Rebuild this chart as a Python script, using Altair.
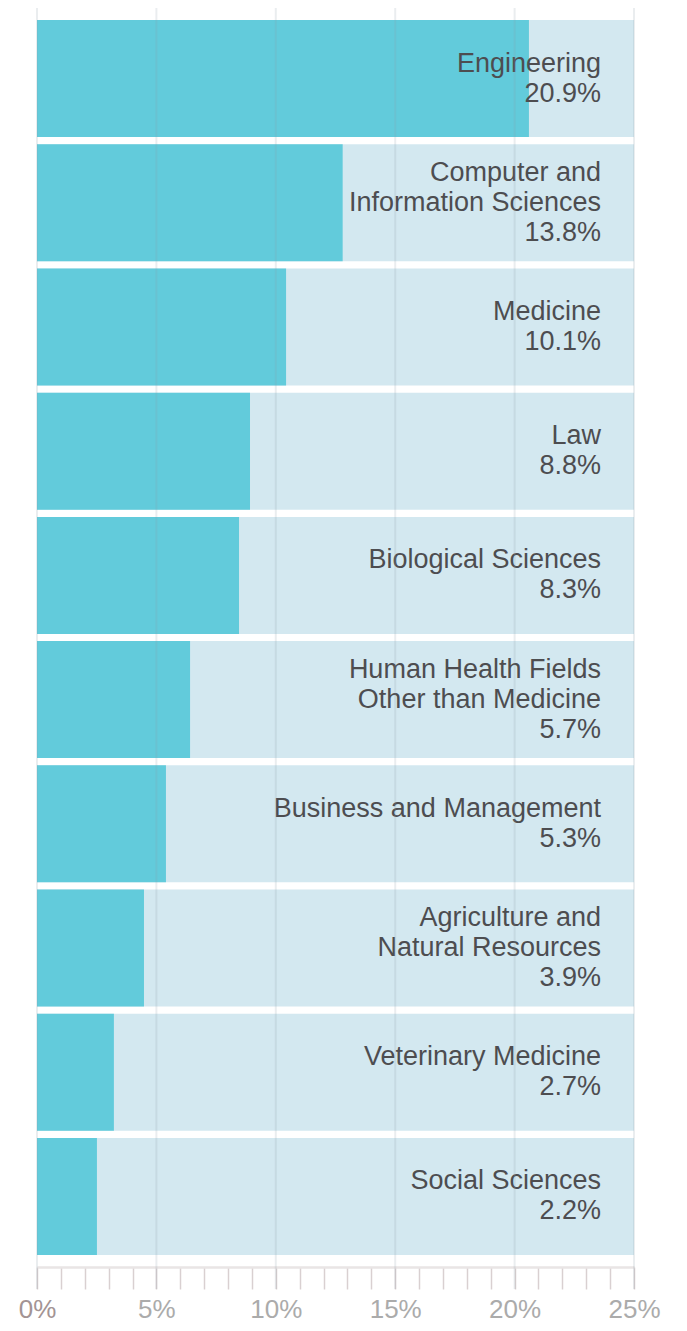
import altair as alt
import pandas as pd

fields = [
    "Engineering",
    "Computer and\nInformation Sciences",
    "Medicine",
    "Law",
    "Biological Sciences",
    "Human Health Fields\nOther than Medicine",
    "Business and Management",
    "Agriculture and\nNatural Resources",
    "Veterinary Medicine",
    "Social Sciences",
]
bar_values = [20.6, 12.8, 10.43, 8.92, 8.46, 6.41, 5.4, 4.48, 3.22, 2.51]
pct_labels = ["20.9%", "13.8%", "10.1%", "8.8%", "8.3%", "5.7%", "5.3%", "3.9%", "2.7%", "2.2%"]
axis_max = 25
grid_values = [0, 5, 10, 15, 20, 25]
tick_values = list(range(0, 26))

df = pd.DataFrame({
    "field": fields,
    "value": bar_values,
    "pct": pct_labels,
    "full": [axis_max] * len(fields),
})
grid_df = pd.DataFrame({"g": grid_values})

W = 597
H = 1259
LH = 30
HALF_BAND = 58.5

y_enc = alt.Y(
    "field:N",
    sort=fields,
    scale=alt.Scale(paddingInner=0.058, paddingOuter=0.0975),
    axis=None,
)
x_scale = alt.Scale(domain=[0, axis_max], nice=False, zero=True)

x_axis = alt.Axis(
    values=tick_values,
    grid=False,
    labelExpr="datum.value % 5 == 0 ? datum.value + '%' : ''",
    labelFontSize=26,
    labelFont="Liberation Sans",
    labelColor={"expr": "datum.value == 0 ? '#a39494' : '#ababab'"},
    labelPadding=7,
    labelFlush=False,
    labelOverlap=False,
    labelBound=False,
    tickSize=22,
    tickColor="#d9d0d1",
    tickWidth=1.5,
    domainColor="#e9e5e5",
    domainWidth=2.5,
)

bg = alt.Chart(df).mark_bar(color="#d3e8f0").encode(
    y=y_enc,
    x=alt.X("full:Q", scale=x_scale, title=None, axis=x_axis),
)

fg = alt.Chart(df).mark_bar(color="#62cbdb").encode(
    y=y_enc,
    x=alt.X("value:Q", scale=x_scale, title=None, axis=x_axis),
)

txt = alt.Chart(df).transform_calculate(
    lines="split(datum.field + '\\n' + datum.pct, '\\n')"
).transform_calculate(
    off=f"{HALF_BAND} - (length(datum.lines) - 1) * {LH / 2}"
).mark_text(
    align="right",
    baseline="middle",
    font="Liberation Sans",
    fontSize=27,
    lineHeight=LH,
    color="#4d4d50",
).encode(
    y=y_enc,
    yOffset=alt.YOffset("off:Q", scale=None),
    x=alt.value(564),
    text="lines:N",
)

grid = alt.Chart(grid_df).mark_rule(
    color="#8a9aa5", strokeWidth=2, opacity=0.18
).encode(
    x=alt.X("g:Q", scale=x_scale, title=None, axis=x_axis),
    y=alt.value(-2),
    y2=alt.value(H + 22),
)

chart = alt.layer(bg, fg, txt, grid).properties(
    width=W,
    height=H,
    autosize=alt.AutoSizeParams(type="none"),
    padding={"left": 29, "top": 0, "right": 40, "bottom": 56},
).configure_view(stroke=None).configure_axis(labelOverlap=False)

chart.save("out.html", embed_options={"renderer": "svg", "actions": False})
